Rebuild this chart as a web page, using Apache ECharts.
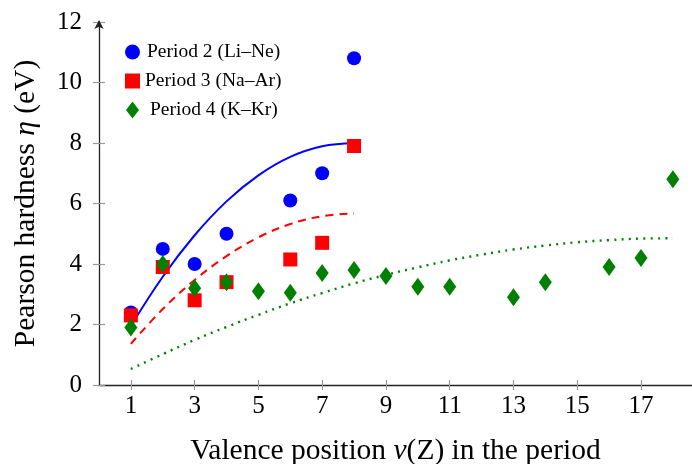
<!DOCTYPE html>
<html>
<head>
<meta charset="utf-8">
<script src="https://cdn.jsdelivr.net/npm/echarts@6/dist/echarts.min.js"></script>
<style>html,body{margin:0;padding:0;background:#fff}#c{width:692px;height:464px}</style>
</head>
<body>
<div id="c"></div>
<script>
const xTicks = [1, 3, 5, 7, 9, 11, 13, 15, 17];
const p2x = [1, 2, 3, 4, 6, 7, 8];
const p2y = [2.4, 4.5, 4.0, 5.0, 6.1, 7.0, 10.8];
const p3x = [1, 2, 3, 4, 6, 7, 8];
const p3y = [2.3, 3.9, 2.8, 3.4, 4.15, 4.7, 7.9];
const p4x = [1, 2, 3, 4, 5, 6, 7, 8, 9, 10, 11, 13, 14, 16, 17, 18];
const p4y = [1.9, 4.0, 3.2, 3.4, 3.1, 3.05, 3.7, 3.8, 3.6, 3.25, 3.25, 2.9, 3.4, 3.9, 4.2, 6.8];
const fit23x = [1, 2, 3, 4, 5, 6, 7, 8];
const fit2y = [1.95, 3.58, 4.95, 6.07, 6.93, 7.54, 7.89, 8.0];
const fit3y = [1.36, 2.51, 3.47, 4.26, 4.88, 5.32, 5.58, 5.67];
const fit4x = [1, 2, 3, 4, 5, 6, 7, 8, 9, 10, 11, 12, 13, 14, 15, 16, 17, 18];
const fit4y = [0.53, 1.02, 1.49, 1.92, 2.32, 2.70, 3.04, 3.36, 3.64, 3.89, 4.12, 4.31, 4.48, 4.61, 4.72, 4.79, 4.84, 4.85];

const zip = (xs, ys) => xs.map((x, i) => [x, ys[i]]);
const FONT = 'Liberation Serif';
const chart = echarts.init(document.getElementById('c'), null, {renderer: 'canvas'});
const axisX = {type: 'value', min: 0, max: 18.6, gridIndex: 0};
const tickStyle = {color: '#999', width: 1.2};
const nameStyle = {fontFamily: FONT, fontSize: 29.5, color: '#000',
  rich: {i: {fontFamily: FONT, fontSize: 29.5, fontStyle: 'italic', color: '#000'}}};
chart.setOption({
  animation: false,
  textStyle: {fontFamily: FONT, color: '#000'},
  grid: {left: 99, right: 0, top: 22, bottom: 79, containLabel: false, outerBoundsMode: 'none'},
  legend: {
    orient: 'vertical', left: 120, top: 37, itemGap: 9,
    itemWidth: 15, itemHeight: 17, symbolKeepAspect: true,
    textStyle: {fontFamily: FONT, fontSize: 19.5, color: '#000'},
    data: [
      {name: 'Period 2 (Li–Ne)', icon: 'circle', textStyle: {padding: [0, 0, 0, 2]}},
      {name: 'Period 3 (Na–Ar)', icon: 'path://M0,0L1,0L1,1L0,1Z', textStyle: {padding: [0, 0, 0, 0]}},
      {name: 'Period 4 (K–Kr)', icon: 'path://M6.5,0L13,8.5L6.5,17L0,8.5Z', textStyle: {padding: [0, 0, 0, 5]}}
    ]
  },
  xAxis: [
    Object.assign({}, axisX, {
      position: 'bottom',
      splitLine: {show: false},
      axisLine: {show: true, onZero: false, lineStyle: {color: '#222', width: 1.3}},
      axisTick: {show: true, customValues: xTicks, length: 5, lineStyle: tickStyle},
      axisLabel: {customValues: xTicks, fontSize: 25, color: '#000', fontFamily: FONT, margin: 9},
      name: 'Valence position {i|v}(Z) in the period',
      nameLocation: 'middle', nameGap: 51,
      nameTextStyle: nameStyle
    }),
    Object.assign({}, axisX, {
      position: 'bottom',
      splitLine: {show: false},
      axisLine: {show: false, onZero: false},
      axisTick: {show: true, inside: true, customValues: xTicks, length: 5, lineStyle: tickStyle},
      axisLabel: {show: false}
    })
  ],
  yAxis: [
    {
      type: 'value', min: 0, max: 12, interval: 2,
      splitLine: {show: false},
      axisLine: {show: true, onZero: false, symbol: ['none', 'arrow'], symbolSize: [7, 9], symbolOffset: [0, 2],
        lineStyle: {color: '#222', width: 1.3}},
      axisTick: {show: true, length: 6, lineStyle: tickStyle},
      axisLabel: {fontSize: 25, color: '#000', fontFamily: FONT, margin: 17},
      name: 'Pearson hardness {i|η} (eV)',
      nameLocation: 'middle', nameGap: 58,
      nameTextStyle: nameStyle
    },
    {
      type: 'value', min: 0, max: 12, interval: 2,
      splitLine: {show: false},
      axisLine: {show: false},
      axisTick: {show: true, inside: true, length: 6, lineStyle: tickStyle},
      axisLabel: {show: false},
      position: 'left'
    }
  ],
  series: [
    {type: 'line', name: 'fit2', data: zip(fit23x, fit2y), smooth: 0.4, showSymbol: false, symbol: 'none',
      lineStyle: {color: '#0000ff', width: 2}, z: 1, silent: true},
    {type: 'line', name: 'fit3', data: zip(fit23x, fit3y), smooth: 0.4, showSymbol: false, symbol: 'none',
      lineStyle: {color: '#ff0000', width: 2, type: [8, 6]}, z: 1, silent: true},
    {type: 'line', name: 'fit4', data: zip(fit4x, fit4y), smooth: 0.4, showSymbol: false, symbol: 'none',
      lineStyle: {color: '#008000', width: 2.4, type: [2, 5.3]}, z: 1, silent: true},
    {type: 'scatter', name: 'Period 2 (Li–Ne)', data: zip(p2x, p2y), symbol: 'circle', symbolSize: 14,
      itemStyle: {color: '#0000ff', opacity: 1}, z: 3},
    {type: 'scatter', name: 'Period 3 (Na–Ar)', data: zip(p3x, p3y), symbol: 'rect', symbolSize: 14,
      itemStyle: {color: '#ff0000', opacity: 1}, z: 4},
    {type: 'scatter', name: 'Period 4 (K–Kr)', data: zip(p4x, p4y), symbol: 'diamond', symbolSize: [13, 18],
      itemStyle: {color: '#008000', opacity: 1}, z: 5}
  ]
});
</script>
</body>
</html>
